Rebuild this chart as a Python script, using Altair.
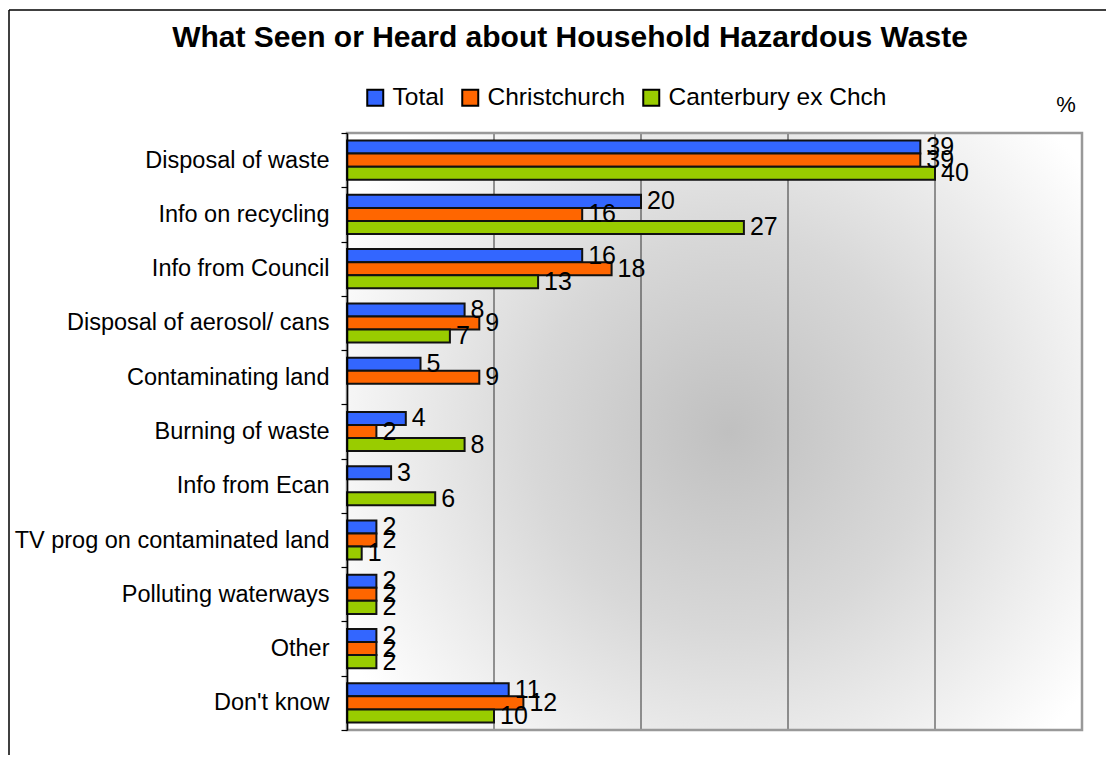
import altair as alt
import pandas as pd

FONT = "Liberation Sans"

categories = [
    "Disposal of waste",
    "Info on recycling",
    "Info from Council",
    "Disposal of aerosol/ cans",
    "Contaminating land",
    "Burning of waste",
    "Info from Ecan",
    "TV prog on contaminated land",
    "Polluting waterways",
    "Other",
    "Don't know",
]
series_names = ["Total", "Christchurch", "Canterbury ex Chch"]
total_vals = [39, 20, 16, 8, 5, 4, 3, 2, 2, 2, 11]
chch_vals = [39, 16, 18, 9, 9, 2, None, 2, 2, 2, 12]
cant_vals = [40, 27, 13, 7, None, 8, 6, 1, 2, 2, 10]
series_colors = ["#3366FF", "#FF6600", "#99CC00"]
grid_ticks = [10, 20, 30, 40]
title_text = "What Seen or Heard about Household Hazardous Waste"
unit_text = "%"

rows = []
for s, vals in zip(series_names, [total_vals, chch_vals, cant_vals]):
    for c, v in zip(categories, vals):
        if v is not None:
            rows.append({"category": c, "series": s, "value": v})
df = pd.DataFrame(rows)
one = pd.DataFrame({"k": [0]})

x_scale = alt.Scale(domain=[0, 50], nice=False, zero=True)
y_enc = alt.Y(
    "category:N",
    sort=categories,
    scale=alt.Scale(domain=categories, paddingInner=0, paddingOuter=0),
    axis=alt.Axis(
        title=None,
        labelFont=FONT,
        labelFontSize=23.5,
        labelColor="black",
        labelLimit=500,
        labelPadding=12,
        domainColor="black",
        domainWidth=1.5,
        tickColor="black",
        tickSize=6,
        tickWidth=1.2,
        tickBand="extent",
        zindex=2,
    ),
)
yoff = alt.YOffset(
    "series:N",
    sort=series_names,
    scale=alt.Scale(domain=series_names, paddingInner=0, paddingOuter=0.58),
)
color = alt.Color(
    "series:N",
    sort=series_names,
    scale=alt.Scale(domain=series_names, range=series_colors),
    legend=alt.Legend(
        orient="none",
        legendX=16,
        legendY=-48,
        direction="horizontal",
        title=None,
        symbolType="square",
        symbolSize=256,
        symbolStrokeColor="black",
        symbolStrokeWidth=2,
        symbolOpacity=1,
        labelFont=FONT,
        labelFontSize=24.5,
        labelColor="black",
        labelOffset=5,
        columnPadding=13,
        labelLimit=400,
    ),
)

gradient = {
    "gradient": "radial",
    "x1": 0.52, "y1": 0.5, "r1": 0,
    "x2": 0.52, "y2": 0.5, "r2": 0.6,
    "stops": [
        {"offset": 0, "color": "#c0c0c0"},
        {"offset": 0.45, "color": "#d8d8d8"},
        {"offset": 1, "color": "#ffffff"},
    ],
}

bg = alt.Chart(one).mark_rect(fill=gradient, strokeWidth=0).encode(
    x=alt.value(0), x2=alt.value("width"), y=alt.value(0), y2=alt.value("height")
)

grid = alt.Chart(pd.DataFrame({"v": grid_ticks})).mark_rule(
    color="#333333", strokeWidth=1
).encode(x=alt.X("v:Q", scale=x_scale, axis=None))

border = alt.Chart(one).mark_rect(
    fill="white", fillOpacity=0, stroke="#999999", strokeWidth=2.5
).encode(x=alt.value(0), x2=alt.value("width"), y=alt.value(0), y2=alt.value("height"))

bars = alt.Chart(df).mark_bar(stroke="#111111", strokeWidth=2).encode(
    x=alt.X("value:Q", scale=x_scale, axis=None),
    y=y_enc,
    yOffset=yoff,
    color=color,
)

labels = alt.Chart(df).mark_text(
    align="left", baseline="middle", dx=6, fontSize=25, font=FONT, color="black"
).encode(
    x=alt.X("value:Q", scale=x_scale, axis=None),
    y=y_enc,
    yOffset=yoff,
    text="value:Q",
)

title = alt.Chart(pd.DataFrame({"t": [title_text]})).mark_text(
    align="center", baseline="alphabetic", fontSize=30, fontWeight="bold",
    font=FONT, color="black"
).encode(x=alt.value(223), y=alt.value(-86), text="t:N")

unit = alt.Chart(pd.DataFrame({"t": [unit_text]})).mark_text(
    align="center", baseline="alphabetic", fontSize=22, font=FONT, color="black"
).encode(x=alt.value(719), y=alt.value(-21), text="t:N")

frame_left = alt.Chart(one).mark_rule(color="black", strokeWidth=1.5).encode(
    x=alt.value(-338), y=alt.value(-123), y2=alt.value(700)
)
frame_top = alt.Chart(one).mark_rule(color="black", strokeWidth=1.5).encode(
    x=alt.value(-338), x2=alt.value(900), y=alt.value(-123)
)

chart = (
    alt.layer(bg, grid, border, bars, labels, title, unit, frame_left, frame_top)
    .properties(
        width=735,
        height=597,
        autosize=alt.AutoSizeParams(type="none"),
        padding={"left": 339, "top": 125, "right": 24, "bottom": 25},
        background="white",
    )
    .configure_view(strokeWidth=0)
)

chart.save("out.html", embed_options={"renderer": "svg", "actions": False})
